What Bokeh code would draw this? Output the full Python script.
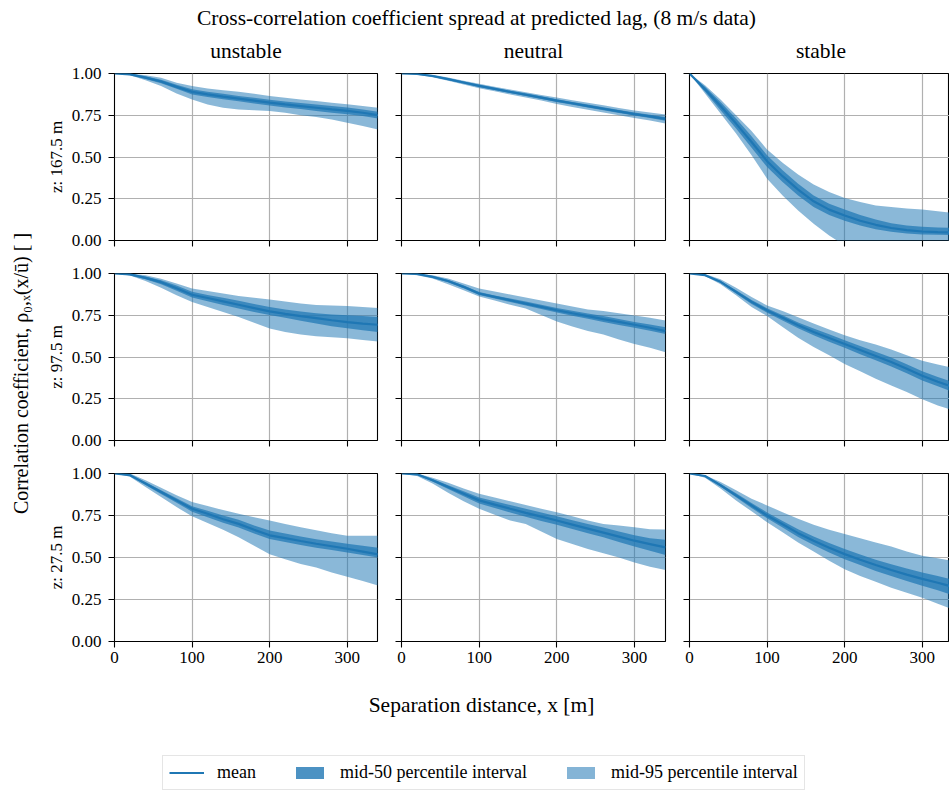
import math
from bokeh.plotting import figure
from bokeh.layouts import column, row
from bokeh.models import (Range1d, FixedTicker, NumeralTickFormatter, Label,
                          Legend, LegendItem)
from bokeh.embed import file_html
from bokeh.resources import INLINE

# ---------------- data ----------------
x_sep = [0, 20, 40, 60, 80, 100, 120, 140, 160, 180, 200, 220, 240, 260, 280, 300, 320, 340]

stabilities = ["unstable", "neutral", "stable"]
heights = ["167.5", "97.5", "27.5"]
x_ticks = [0, 100, 200, 300]
y_ticks = [0.0, 0.25, 0.5, 0.75, 1.0]

# z = 167.5 m
u167_mean = [1.0, 0.995, 0.975, 0.952, 0.92, 0.89, 0.875, 0.862, 0.85, 0.838, 0.826, 0.815, 0.805, 0.795, 0.785, 0.776, 0.765, 0.75]
u167_q25 = [1.0, 0.992, 0.967, 0.942, 0.908, 0.875, 0.86, 0.846, 0.834, 0.821, 0.809, 0.797, 0.787, 0.776, 0.765, 0.756, 0.745, 0.73]
u167_q75 = [1.0, 0.998, 0.983, 0.962, 0.932, 0.905, 0.89, 0.878, 0.866, 0.855, 0.843, 0.833, 0.823, 0.814, 0.805, 0.796, 0.785, 0.77]
u167_p025 = [1.0, 0.99, 0.96, 0.925, 0.88, 0.845, 0.815, 0.795, 0.785, 0.78, 0.775, 0.765, 0.75, 0.74, 0.725, 0.705, 0.685, 0.665]
u167_p975 = [1.0, 1.0, 0.99, 0.975, 0.945, 0.925, 0.91, 0.9, 0.89, 0.878, 0.866, 0.855, 0.845, 0.835, 0.825, 0.816, 0.805, 0.795]

n167_mean = [1.0, 0.997, 0.985, 0.966, 0.946, 0.926, 0.908, 0.89, 0.873, 0.856, 0.838, 0.822, 0.805, 0.789, 0.773, 0.757, 0.743, 0.728]
n167_q25 = [1.0, 0.995, 0.981, 0.961, 0.94, 0.919, 0.901, 0.883, 0.865, 0.848, 0.83, 0.813, 0.796, 0.78, 0.764, 0.748, 0.733, 0.717]
n167_q75 = [1.0, 0.999, 0.989, 0.971, 0.952, 0.933, 0.915, 0.897, 0.881, 0.864, 0.846, 0.83, 0.814, 0.798, 0.782, 0.766, 0.753, 0.739]
n167_p025 = [1.0, 0.993, 0.977, 0.956, 0.934, 0.912, 0.893, 0.874, 0.856, 0.838, 0.818, 0.8, 0.783, 0.766, 0.75, 0.733, 0.718, 0.70]
n167_p975 = [1.0, 1.0, 0.992, 0.976, 0.957, 0.938, 0.921, 0.904, 0.888, 0.872, 0.856, 0.84, 0.825, 0.81, 0.794, 0.779, 0.766, 0.755]

s167_mean = [1.0, 0.905, 0.805, 0.70, 0.59, 0.475, 0.385, 0.305, 0.235, 0.185, 0.15, 0.118, 0.094, 0.075, 0.062, 0.054, 0.05, 0.048]
s167_q25 = [1.0, 0.89, 0.78, 0.67, 0.555, 0.44, 0.35, 0.27, 0.2, 0.152, 0.118, 0.09, 0.068, 0.052, 0.042, 0.036, 0.034, 0.033]
s167_q75 = [1.0, 0.92, 0.83, 0.73, 0.625, 0.51, 0.42, 0.34, 0.27, 0.22, 0.185, 0.152, 0.126, 0.104, 0.09, 0.082, 0.078, 0.076]
s167_p025 = [1.0, 0.88, 0.76, 0.64, 0.51, 0.37, 0.27, 0.18, 0.1, 0.03, -0.03, -0.06, -0.08, -0.09, -0.1, -0.1, -0.1, -0.1]
s167_p975 = [1.0, 0.93, 0.845, 0.75, 0.655, 0.545, 0.465, 0.395, 0.335, 0.29, 0.255, 0.23, 0.21, 0.2, 0.192, 0.185, 0.175, 0.165]

# z = 97.5 m
u97_mean = [1.0, 0.995, 0.974, 0.948, 0.912, 0.873, 0.853, 0.833, 0.813, 0.793, 0.773, 0.758, 0.745, 0.733, 0.72, 0.709, 0.7, 0.693]
u97_q25 = [1.0, 0.99, 0.965, 0.936, 0.897, 0.857, 0.834, 0.811, 0.79, 0.77, 0.752, 0.735, 0.717, 0.7, 0.684, 0.672, 0.66, 0.65]
u97_q75 = [1.0, 0.998, 0.982, 0.96, 0.928, 0.89, 0.872, 0.855, 0.837, 0.818, 0.8, 0.785, 0.772, 0.762, 0.755, 0.75, 0.745, 0.74]
u97_p025 = [1.0, 0.988, 0.955, 0.915, 0.87, 0.83, 0.8, 0.77, 0.74, 0.705, 0.67, 0.65, 0.635, 0.625, 0.618, 0.612, 0.602, 0.592]
u97_p975 = [1.0, 1.0, 0.99, 0.968, 0.94, 0.91, 0.895, 0.88, 0.866, 0.855, 0.845, 0.832, 0.82, 0.812, 0.808, 0.805, 0.8, 0.793]

n97_mean = [1.0, 0.997, 0.98, 0.955, 0.92, 0.88, 0.86, 0.84, 0.82, 0.8, 0.78, 0.762, 0.745, 0.727, 0.71, 0.693, 0.675, 0.655]
n97_q25 = [1.0, 0.994, 0.975, 0.948, 0.912, 0.871, 0.85, 0.829, 0.808, 0.787, 0.766, 0.747, 0.729, 0.71, 0.692, 0.675, 0.657, 0.638]
n97_q75 = [1.0, 0.999, 0.985, 0.961, 0.928, 0.889, 0.869, 0.85, 0.832, 0.813, 0.794, 0.777, 0.761, 0.745, 0.728, 0.71, 0.694, 0.678]
n97_p025 = [1.0, 0.99, 0.97, 0.935, 0.9, 0.862, 0.838, 0.813, 0.79, 0.752, 0.713, 0.683, 0.655, 0.635, 0.605, 0.578, 0.555, 0.528]
n97_p975 = [1.0, 1.0, 0.99, 0.97, 0.94, 0.91, 0.892, 0.874, 0.856, 0.838, 0.82, 0.802, 0.785, 0.775, 0.762, 0.749, 0.735, 0.719]

s97_mean = [1.0, 0.99, 0.95, 0.89, 0.83, 0.779, 0.735, 0.69, 0.65, 0.614, 0.578, 0.542, 0.506, 0.47, 0.43, 0.388, 0.352, 0.32]
s97_q25 = [1.0, 0.988, 0.945, 0.88, 0.818, 0.765, 0.718, 0.672, 0.63, 0.592, 0.555, 0.517, 0.48, 0.443, 0.402, 0.36, 0.325, 0.29]
s97_q75 = [1.0, 0.993, 0.955, 0.9, 0.842, 0.792, 0.75, 0.707, 0.67, 0.636, 0.6, 0.566, 0.532, 0.497, 0.457, 0.415, 0.38, 0.35]
s97_p025 = [1.0, 0.985, 0.935, 0.87, 0.8, 0.745, 0.68, 0.615, 0.56, 0.51, 0.458, 0.415, 0.37, 0.33, 0.29, 0.247, 0.21, 0.18]
s97_p975 = [1.0, 0.997, 0.965, 0.915, 0.86, 0.808, 0.775, 0.738, 0.7, 0.665, 0.63, 0.6, 0.575, 0.545, 0.51, 0.478, 0.455, 0.435]

# z = 27.5 m
u27_mean = [1.0, 0.99, 0.94, 0.89, 0.84, 0.79, 0.76, 0.728, 0.7, 0.665, 0.632, 0.615, 0.598, 0.582, 0.567, 0.552, 0.535, 0.518]
u27_q25 = [1.0, 0.987, 0.932, 0.878, 0.826, 0.773, 0.74, 0.707, 0.678, 0.643, 0.61, 0.592, 0.575, 0.558, 0.544, 0.53, 0.515, 0.5]
u27_q75 = [1.0, 0.993, 0.948, 0.9, 0.853, 0.805, 0.778, 0.75, 0.724, 0.69, 0.66, 0.643, 0.625, 0.608, 0.595, 0.582, 0.57, 0.558]
u27_p025 = [1.0, 0.98, 0.92, 0.86, 0.8, 0.745, 0.705, 0.665, 0.62, 0.57, 0.52, 0.49, 0.462, 0.44, 0.41, 0.386, 0.36, 0.333]
u27_p975 = [1.0, 1.0, 0.96, 0.915, 0.87, 0.83, 0.806, 0.782, 0.76, 0.74, 0.72, 0.7, 0.68, 0.662, 0.645, 0.63, 0.63, 0.63]

n27_mean = [1.0, 0.995, 0.96, 0.92, 0.88, 0.84, 0.815, 0.79, 0.766, 0.743, 0.72, 0.696, 0.672, 0.648, 0.624, 0.60, 0.58, 0.56]
n27_q25 = [1.0, 0.992, 0.952, 0.908, 0.864, 0.822, 0.795, 0.768, 0.742, 0.717, 0.695, 0.67, 0.645, 0.62, 0.593, 0.566, 0.54, 0.515]
n27_q75 = [1.0, 0.998, 0.967, 0.93, 0.894, 0.857, 0.835, 0.812, 0.79, 0.768, 0.745, 0.722, 0.7, 0.678, 0.655, 0.632, 0.615, 0.605]
n27_p025 = [1.0, 0.985, 0.94, 0.885, 0.835, 0.79, 0.755, 0.72, 0.7, 0.655, 0.61, 0.58, 0.55, 0.525, 0.5, 0.47, 0.445, 0.426]
n27_p975 = [1.0, 1.0, 0.975, 0.945, 0.91, 0.88, 0.857, 0.835, 0.812, 0.79, 0.77, 0.745, 0.72, 0.7, 0.69, 0.68, 0.668, 0.667]

s27_mean = [1.0, 0.985, 0.93, 0.87, 0.81, 0.75, 0.698, 0.645, 0.6, 0.558, 0.52, 0.487, 0.455, 0.426, 0.398, 0.373, 0.35, 0.325]
s27_q25 = [1.0, 0.982, 0.922, 0.858, 0.795, 0.733, 0.678, 0.622, 0.574, 0.53, 0.49, 0.455, 0.42, 0.39, 0.36, 0.332, 0.305, 0.275]
s27_q75 = [1.0, 0.988, 0.938, 0.882, 0.825, 0.768, 0.718, 0.668, 0.625, 0.586, 0.55, 0.518, 0.487, 0.46, 0.435, 0.41, 0.39, 0.368]
s27_p025 = [1.0, 0.975, 0.91, 0.84, 0.775, 0.71, 0.65, 0.59, 0.535, 0.48, 0.43, 0.39, 0.355, 0.32, 0.29, 0.26, 0.225, 0.19]
s27_p975 = [1.0, 0.99, 0.95, 0.9, 0.85, 0.81, 0.77, 0.73, 0.695, 0.665, 0.64, 0.615, 0.59, 0.565, 0.535, 0.51, 0.495, 0.48]

panels = [
    [(u167_mean, u167_q25, u167_q75, u167_p025, u167_p975),
     (n167_mean, n167_q25, n167_q75, n167_p025, n167_p975),
     (s167_mean, s167_q25, s167_q75, s167_p025, s167_p975)],
    [(u97_mean, u97_q25, u97_q75, u97_p025, u97_p975),
     (n97_mean, n97_q25, n97_q75, n97_p025, n97_p975),
     (s97_mean, s97_q25, s97_q75, s97_p025, s97_p975)],
    [(u27_mean, u27_q25, u27_q75, u27_p025, u27_p975),
     (n27_mean, n27_q25, n27_q75, n27_p025, n27_p975),
     (s27_mean, s27_q25, s27_q75, s27_p025, s27_p975)],
]

# ---------------- styling ----------------
C0 = "#1f77b4"
A50 = 0.72
A95 = 0.52
FONT = "Liberation Serif"
TICK_FS = "17px"
BIG_FS = "21.5px"

# page layout (pixels, page origin at top-left, no body margin)
TOTAL_W = 949
TOTAL_H = 791
LEFT_W = 40
col_border_left = [74, 12, 12]
col_frame_w = [263, 264, 260]
col_border_right = [12, 12, 0]
col_xmax = [339, 340, 260 * 339 / 263]
row_border_top = [10, 10, 10]
row_frame_h = [167, 167, 168]
row_border_bottom = [23, 23, 39]
TOP_H = 63
GRID_H = sum(row_border_top) + sum(row_frame_h) + sum(row_border_bottom)
BOTTOM_H = TOTAL_H - TOP_H - GRID_H


def hide_labels(ax, ticks):
    ax.major_label_overrides = {t: "" for t in ticks}
    ax.major_label_text_font_size = "0px"
    ax.major_label_standoff = 0


def make_panel(r, c):
    mean, q25, q75, p025, p975 = panels[r][c]
    p = figure(frame_width=col_frame_w[c], frame_height=row_frame_h[r],
               x_range=Range1d(0, col_xmax[c]), y_range=Range1d(0, 1),
               output_backend="svg", toolbar_location=None, title=None,
               min_border_left=col_border_left[c], min_border_right=col_border_right[c],
               min_border_top=row_border_top[r], min_border_bottom=row_border_bottom[r],
               background_fill_color="white", border_fill_color="white")
    p.varea(x=x_sep, y1=p025, y2=p975, fill_color=C0, fill_alpha=A95)
    p.varea(x=x_sep, y1=q25, y2=q75, fill_color=C0, fill_alpha=A50)
    p.line(x=x_sep, y=mean, line_color=C0, line_width=2.2)

    p.outline_line_color = "black"
    p.outline_line_width = 1.1
    p.outline_line_alpha = 1.0

    p.xaxis.ticker = FixedTicker(ticks=x_ticks)
    p.yaxis.ticker = FixedTicker(ticks=y_ticks)
    p.xgrid.ticker = FixedTicker(ticks=x_ticks)
    p.ygrid.ticker = FixedTicker(ticks=y_ticks)
    for g in (p.xgrid, p.ygrid):
        g.grid_line_color = "#b0b0b0"
        g.grid_line_width = 1.2
    for ax in (p.xaxis, p.yaxis):
        ax.axis_line_color = None
        ax.major_tick_in = 0
        ax.major_tick_out = 6
        ax.major_tick_line_color = "black"
        ax.major_tick_line_width = 1.1
        ax.minor_tick_line_color = None
        ax.major_label_text_font = FONT
        ax.major_label_text_font_size = TICK_FS
        ax.major_label_text_color = "black"
    p.xaxis.major_label_standoff = 4
    p.yaxis.major_label_standoff = 7
    p.yaxis.formatter = NumeralTickFormatter(format="0.00")
    if r != 2:
        hide_labels(p.xaxis, x_ticks)
    if c != 0:
        hide_labels(p.yaxis, y_ticks)
    else:
        p.yaxis.axis_label = "z: " + heights[r] + " m"
        p.yaxis.axis_label_text_font = FONT
        p.yaxis.axis_label_text_font_style = "normal"
        p.yaxis.axis_label_text_font_size = TICK_FS
        p.yaxis.axis_label_text_color = "black"
        p.yaxis.axis_label_standoff = 3
    return p


grid_rows = []
for r in range(3):
    grid_rows.append(row(*[make_panel(r, c) for c in range(3)]))
grid = column(*grid_rows)


def blank(w, h, x0, x1, y0, y1):
    f = figure(width=w, height=h, x_range=Range1d(x0, x1), y_range=Range1d(y1, y0),
               x_axis_type=None, y_axis_type=None, output_backend="svg",
               toolbar_location=None, title=None, min_border=0,
               background_fill_color="white", border_fill_color="white")
    f.outline_line_color = None
    f.xgrid.visible = False
    f.ygrid.visible = False
    return f


# top: suptitle + column titles (page coordinates)
top = blank(TOTAL_W, TOP_H, 0, TOTAL_W, 0, TOP_H)
top.add_layout(Label(x=476, y=17, text="Cross-correlation coefficient spread at predicted lag, (8 m/s data)",
                     text_align="center", text_baseline="middle", text_font=FONT,
                     text_font_size=BIG_FS, text_color="black"))
col_centers = [245.5, 533, 820.5]
for name, cx in zip(stabilities, col_centers):
    top.add_layout(Label(x=cx, y=62.5, text=name, text_align="center", text_baseline="bottom",
                         text_font=FONT, text_font_size=BIG_FS, text_color="black"))

# left: super y label
left = blank(LEFT_W, GRID_H, 0, LEFT_W, TOP_H, TOP_H + GRID_H)
left.add_layout(Label(x=20, y=373, text="Correlation coefficient, ρ₀,ₓ(x/ū) [ ]",
                      angle=math.pi / 2, text_align="center", text_baseline="middle",
                      text_font=FONT, text_font_size="20px", text_color="black"))

# bottom: x label + legend
y_bot0 = TOP_H + GRID_H
bottom = blank(TOTAL_W, BOTTOM_H, 0, TOTAL_W, y_bot0, TOTAL_H)
bottom.add_layout(Label(x=481, y=704, text="Separation distance, x [m]",
                        text_align="center", text_baseline="middle",
                        text_font=FONT, text_font_size=BIG_FS, text_color="black"))
nan = float("nan")
r_mean = bottom.line(x=[nan], y=[nan], line_color=C0, line_width=2.2)
r_50 = bottom.varea(x=[nan], y1=[nan], y2=[nan], fill_color=C0, fill_alpha=0.8)
r_95 = bottom.varea(x=[nan], y1=[nan], y2=[nan], fill_color=C0, fill_alpha=0.55)
legend = Legend(items=[LegendItem(label="mean", renderers=[r_mean]),
                       LegendItem(label="mid-50 percentile interval", renderers=[r_50]),
                       LegendItem(label="mid-95 percentile interval", renderers=[r_95])],
                orientation="horizontal", location=(162, 1),
                glyph_width=35, glyph_height=15, label_standoff=13, spacing=36,
                label_height=18, padding=6, margin=0,
                label_text_font=FONT, label_text_font_size="18px",
                label_text_color="black", border_line_color="#cccccc", border_line_width=1,
                background_fill_color="white", background_fill_alpha=1.0)
bottom.add_layout(legend)

layout = column(top, row(left, grid), bottom)

open("out.html", "w").write(file_html(layout, INLINE))
